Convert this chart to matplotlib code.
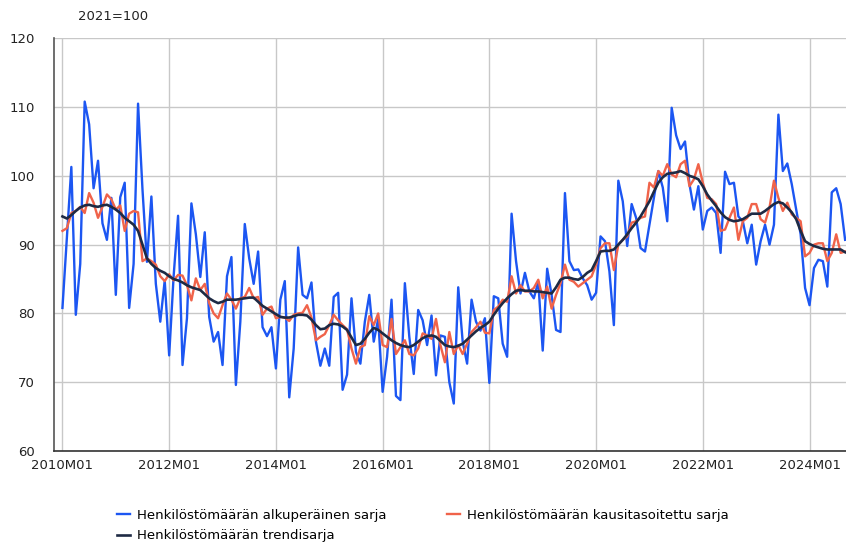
import matplotlib
matplotlib.use("Agg")
import matplotlib.pyplot as plt
import numpy as np

start_year = 2010
tick_labels = ["2010M01", "2012M01", "2014M01", "2016M01", "2018M01", "2020M01", "2022M01", "2024M01"]

original = [
    80.8, 91.0, 101.3, 79.8, 87.2, 110.8, 107.5, 98.2, 102.2, 93.1, 90.7, 96.8,
    82.7, 96.9, 99.0, 80.8, 87.2, 110.5, 98.0, 87.5, 97.0, 84.3, 78.8, 84.8,
    73.9, 85.4, 94.2, 72.5, 79.3, 96.0, 91.5, 85.3, 91.8, 79.5, 75.9, 77.3,
    72.5, 85.4, 88.2, 69.6, 78.8, 93.0, 88.0, 84.3, 89.0, 78.0, 76.7, 78.0,
    72.0, 82.0, 84.7, 67.8, 74.9, 89.6, 82.7, 82.2, 84.5, 75.9, 72.4, 74.9,
    72.4, 82.4, 83.0, 68.9, 71.1, 82.2, 74.4, 72.7, 78.8, 82.7, 75.9, 79.2,
    68.6, 73.7, 82.0, 68.0, 67.4, 84.4, 76.6, 71.2, 80.5, 79.0, 75.4, 79.7,
    71.0, 76.8, 76.6, 70.0, 66.9, 83.8, 75.9, 72.7, 82.0, 78.8, 77.5, 79.3,
    69.9, 82.5, 82.2, 75.6, 73.7, 94.5, 87.6, 82.9, 85.9, 83.2, 82.2, 84.6,
    74.6, 86.5, 82.7, 77.6, 77.3, 97.5, 87.6, 86.3, 86.4, 85.1, 84.1, 82.0,
    83.0, 91.2, 90.5, 86.1, 78.3, 99.3, 96.3, 89.8, 95.9, 93.9, 89.5, 89.0,
    92.9, 96.8, 100.7, 98.3, 93.4, 109.9, 105.9, 103.9, 105.0, 98.8, 95.1, 98.5,
    92.2, 94.9, 95.4, 94.6, 88.8, 100.6, 98.8, 99.0, 94.1, 93.4, 90.2, 92.9,
    87.1, 90.5, 92.9, 90.0, 92.9, 108.9, 100.7, 101.8, 98.8, 95.1, 91.5, 83.7,
    81.2, 86.6, 87.8, 87.6, 83.9, 97.6, 98.2, 95.9, 90.7,
]

seasonal = [
    92.0, 92.4, 94.6, 94.9, 95.5, 94.6, 97.5, 96.1, 93.9, 95.5, 97.3, 96.6,
    95.1, 95.7, 92.0, 94.5, 94.9, 94.7, 87.6, 88.0, 87.6, 87.1, 85.4, 84.7,
    85.7, 84.8, 85.6, 85.5, 84.1, 81.9, 85.1, 83.4, 84.3, 81.5, 80.0, 79.3,
    81.2, 82.9, 82.0, 80.7, 82.2, 82.4, 83.7, 82.2, 82.4, 79.8, 80.7, 81.0,
    79.3, 79.5, 79.4, 78.9, 79.8, 80.0, 80.1, 81.2, 79.4, 76.1, 76.6, 77.0,
    78.3, 79.8, 79.0, 78.3, 77.7, 74.9, 72.7, 75.1, 75.4, 79.6, 78.3, 80.0,
    75.4, 75.1, 79.2, 74.1, 75.1, 76.1, 74.1, 73.9, 74.9, 77.1, 76.8, 76.3,
    79.2, 75.4, 72.9, 77.3, 74.1, 75.4, 74.1, 75.6, 77.3, 78.0, 78.8, 77.2,
    77.1, 80.5, 81.0, 82.0, 81.7, 85.4, 82.9, 84.1, 83.2, 83.2, 83.7, 84.9,
    82.2, 83.9, 80.7, 82.7, 84.4, 87.1, 84.9, 84.6, 83.9, 84.4, 84.9, 85.4,
    87.1, 89.5, 90.2, 90.2, 86.3, 90.0, 90.7, 91.2, 93.2, 93.4, 93.9, 94.1,
    99.0, 98.3, 100.7, 100.0, 101.7, 100.2, 99.8, 101.7, 102.2, 98.5, 99.5, 101.7,
    99.0, 96.8, 96.6, 95.9, 92.0, 92.2, 93.9, 95.4, 90.7, 93.4, 93.9, 95.9,
    95.9, 93.7, 93.2, 95.4, 99.3, 96.8, 94.9, 96.1, 94.4, 93.9, 93.4, 88.3,
    88.8, 90.0, 90.2, 90.2, 87.6, 88.8, 91.5, 88.8, 89.0,
]

trend = [
    94.1, 93.8, 94.3, 94.9, 95.4, 95.7, 95.8, 95.6, 95.5, 95.7, 95.8, 95.5,
    95.1, 94.6, 93.9, 93.4, 92.9, 92.0, 90.0, 88.0, 87.2, 86.6, 86.2, 85.9,
    85.4, 85.0, 84.8, 84.5, 84.1, 83.8, 83.6, 83.4, 82.8, 82.2, 81.8, 81.5,
    81.7, 82.0, 82.0, 82.0, 82.1, 82.2, 82.3, 82.3, 81.7, 81.1, 80.7, 80.3,
    79.9, 79.5, 79.4, 79.4, 79.6, 79.8, 79.8, 79.7, 79.1, 78.3, 77.7, 77.8,
    78.3, 78.5, 78.4, 78.1, 77.6, 76.5, 75.4, 75.6, 76.3, 77.2, 77.9, 77.6,
    77.1, 76.6, 76.1, 75.7, 75.4, 75.2, 75.1, 75.4, 75.9, 76.4, 76.7, 76.8,
    76.6, 76.0, 75.4, 75.2, 75.1, 75.3, 75.6, 76.2, 76.8, 77.4, 77.9, 78.3,
    78.8, 79.8, 80.7, 81.5, 82.2, 82.8, 83.3, 83.4, 83.3, 83.3, 83.2, 83.2,
    83.1, 83.0, 82.9, 83.8, 84.9, 85.2, 85.2, 85.0, 84.9, 85.3, 85.9, 86.3,
    87.6, 89.0, 89.1, 89.1, 89.3, 90.0, 90.7, 91.5, 92.4, 93.2, 94.1, 95.2,
    96.3, 97.7, 99.0, 99.8, 100.3, 100.4, 100.5, 100.7, 100.4, 100.0, 99.8, 99.5,
    98.5, 97.3, 96.4, 95.6, 94.7, 94.0, 93.6, 93.4, 93.5, 93.7, 94.1, 94.5,
    94.5, 94.5, 94.9, 95.4, 95.9, 96.2, 96.0, 95.4, 94.7, 93.7, 92.0, 90.5,
    90.1, 89.8, 89.6, 89.4, 89.3, 89.3, 89.3, 89.3, 88.9,
]

series_names = [
    "Henkilöstömäärän alkuperäinen sarja",
    "Henkilöstömäärän kausitasoitettu sarja",
    "Henkilöstömäärän trendisarja",
]

months = np.arange(len(original))
tick_pos = [12 * (int(l[:4]) - start_year) for l in tick_labels]

plt.rcParams['font.family'] = ['DejaVu Sans']
fig = plt.figure(figsize=(8.46, 5.45), dpi=100)
ax = fig.add_axes([54 / 846, 1 - 451 / 545, 1 - 54 / 846, (451 - 38.3) / 545])

l1, = ax.plot(months, original, color="#1c56f2", lw=1.7, zorder=3)
l2, = ax.plot(months, seasonal, color="#f0634a", lw=1.7, zorder=4)
l3, = ax.plot(months, trend, color="#1e2a44", lw=1.9, zorder=5)

ax.set_ylim(60, 120)
ax.set_xlim(-1.9, len(original) - 0.8)
ax.set_yticks(np.arange(60, 121, 10))
ax.set_xticks(tick_pos)
ax.set_xticklabels(tick_labels)
ax.grid(True, color="#c8c8c8", lw=1.0, zorder=0)
ax.set_axisbelow(True)
for s in ["top", "right"]:
    ax.spines[s].set_visible(False)
ax.spines["left"].set_color("#555555")
ax.spines["left"].set_linewidth(1.2)
ax.spines["bottom"].set_color("#333333")
ax.spines["bottom"].set_linewidth(1.2)
ax.tick_params(axis="both", length=0, labelsize=9.5, colors="#222222")
ax.tick_params(axis="y", pad=14)
ax.tick_params(axis="x", pad=6)

fig.text(78 / 846, 1 - 16 / 545, "2021=100", fontsize=9.5, color="#222222", va="center")

# column-major fill: first column gets items 1 and 3
fig.legend([l1, l3, l2], [series_names[0], series_names[2], series_names[1]],
           loc="upper left", bbox_to_anchor=(117 / 846, 1 - 509 / 545),
           ncol=2, frameon=False, fontsize=9.5, handlelength=1.0, handletextpad=0.5,
           columnspacing=4.6, labelspacing=0.55, borderaxespad=0, borderpad=0)

fig.savefig("out.png", dpi=100)
